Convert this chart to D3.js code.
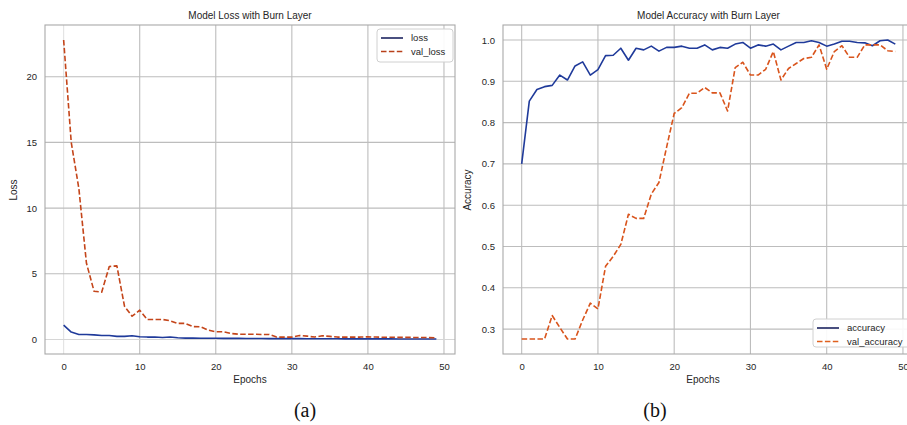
<!DOCTYPE html>
<html>
<head>
<meta charset="utf-8">
<script src="https://cdn.jsdelivr.net/npm/d3@7"></script>
<style>
  body { margin: 0; background: #fff; }
  svg { display: block; font-family: "Liberation Sans", Arial, sans-serif; }
</style>
</head>
<body>
<svg id="chart" width="907" height="425"></svg>
<script>
// ---- data ----
const epochs = d3.range(0, 50);
const loss = [1.09, 0.56, 0.38, 0.38, 0.35, 0.30, 0.30, 0.23, 0.23, 0.28,
              0.20, 0.18, 0.18, 0.15, 0.18, 0.13, 0.10, 0.10, 0.09, 0.09,
              0.09, 0.08, 0.08, 0.08, 0.07, 0.07, 0.07, 0.06, 0.06, 0.06,
              0.06, 0.06, 0.05, 0.05, 0.05, 0.05, 0.05, 0.04, 0.04, 0.04,
              0.05, 0.04, 0.04, 0.04, 0.03, 0.03, 0.03, 0.03, 0.03, 0.03];
const valLoss = [22.8, 15.0, 11.5, 5.8, 3.67, 3.6, 5.55, 5.6, 2.53, 1.77,
                 2.23, 1.52, 1.52, 1.52, 1.42, 1.22, 1.22, 0.98, 0.96, 0.71,
                 0.58, 0.58, 0.45, 0.40, 0.40, 0.40, 0.38, 0.38, 0.18, 0.18,
                 0.18, 0.30, 0.25, 0.18, 0.28, 0.23, 0.18, 0.18, 0.18, 0.18,
                 0.20, 0.18, 0.17, 0.17, 0.16, 0.16, 0.15, 0.15, 0.14, 0.13];
const accuracy = [0.700, 0.852, 0.880, 0.887, 0.890, 0.915, 0.903, 0.937, 0.947, 0.915,
                  0.928, 0.962, 0.963, 0.980, 0.951, 0.980, 0.976, 0.985, 0.973, 0.982,
                  0.982, 0.985, 0.980, 0.980, 0.988, 0.976, 0.982, 0.980, 0.990, 0.994,
                  0.980, 0.988, 0.985, 0.990, 0.976, 0.985, 0.994, 0.994, 0.998, 0.994,
                  0.985, 0.990, 0.997, 0.997, 0.994, 0.993, 0.986, 0.998, 1.000, 0.990];
const valAccuracy = [0.276, 0.276, 0.276, 0.276, 0.333, 0.304, 0.276, 0.276, 0.322, 0.363,
                     0.349, 0.452, 0.476, 0.505, 0.578, 0.568, 0.568, 0.627, 0.655, 0.740,
                     0.822, 0.836, 0.871, 0.871, 0.885, 0.872, 0.872, 0.828, 0.933, 0.946,
                     0.915, 0.915, 0.929, 0.972, 0.903, 0.931, 0.943, 0.955, 0.958, 0.988,
                     0.929, 0.972, 0.986, 0.958, 0.958, 0.988, 0.988, 0.988, 0.974, 0.972];
const xTicks = [0, 10, 20, 30, 40, 50];
const lossTicks = [0, 5, 10, 15, 20];
const accTicks = [0.3, 0.4, 0.5, 0.6, 0.7, 0.8, 0.9, 1.0];

const svg = d3.select("#chart");
const GRID = "#bdbdbd", SPINE = "#a9a9a9", TXT = "#262626";

function padded(vals) {
  const [lo, hi] = d3.extent(vals);
  const m = (hi - lo) * 0.05;
  return [lo - m, hi + m];
}

function panel(opts) {
  const { left, right, top, bottom, title, ylabel, series, yTicks, yFmt,
          legendPos, caption, captionX, lightZero } = opts;
  const g = svg.append("g");
  const x = d3.scaleLinear().domain(padded(epochs)).range([left, right]);
  const allY = [].concat(...series.map(s => s.values));
  const y = d3.scaleLinear().domain(padded(allY)).range([bottom, top]);

  // grid
  g.append("g").selectAll("line").data(xTicks).join("line")
    .attr("x1", d => x(d)).attr("x2", d => x(d))
    .attr("y1", top).attr("y2", bottom)
    .attr("stroke", d => (lightZero && d === 0) ? "#e2e2e2" : GRID)
    .attr("stroke-width", 1.1);
  g.append("g").selectAll("line").data(yTicks).join("line")
    .attr("x1", left).attr("x2", right)
    .attr("y1", d => y(d)).attr("y2", d => y(d))
    .attr("stroke", d => (lightZero && d === 0) ? "#d6d6d6" : GRID)
    .attr("stroke-width", 1.1);

  // axes via d3 (no tick marks, like seaborn whitegrid)
  const xAxis = g.append("g").attr("transform", `translate(0,${bottom})`)
    .call(d3.axisBottom(x).tickValues(xTicks).tickSize(0).tickPadding(9).tickFormat(d3.format("d")));
  const yAxis = g.append("g").attr("transform", `translate(${left},0)`)
    .call(d3.axisLeft(y).tickValues(yTicks).tickSize(0).tickPadding(8).tickFormat(yFmt));
  [xAxis, yAxis].forEach(a => {
    a.select(".domain").remove();
    a.selectAll("text").attr("fill", TXT).attr("font-size", 9.5)
      .attr("font-family", "'Liberation Sans', Arial, sans-serif");
  });

  // lines
  series.forEach(s => {
    const line = d3.line().x((d, i) => x(epochs[i])).y(d => y(d));
    g.append("path").datum(s.values)
      .attr("d", line).attr("fill", "none")
      .attr("stroke", s.color).attr("stroke-width", 1.6)
      .attr("stroke-linejoin", "round")
      .attr("stroke-dasharray", s.dash || null);
  });

  // spines
  g.append("rect").attr("x", left).attr("y", top)
    .attr("width", right - left).attr("height", bottom - top)
    .attr("fill", "none").attr("stroke", SPINE).attr("stroke-width", 1.1);

  // title and labels
  g.append("text").attr("x", (left + right) / 2 - (opts.titleShift || 0)).attr("y", 19)
    .attr("text-anchor", "middle").attr("font-size", 10).attr("fill", TXT).text(title);
  g.append("text").attr("x", opts.xlabelX).attr("y", 383)
    .attr("text-anchor", "middle").attr("font-size", 10).attr("fill", TXT).text("Epochs");
  g.append("text")
    .attr("transform", `translate(${opts.ylabelX},190) rotate(-90)`)
    .attr("text-anchor", "middle").attr("font-size", 10).attr("fill", TXT).text(ylabel);

  // legend
  const lg = g.append("g").attr("transform", `translate(${legendPos[0]},${legendPos[1]})`);
  lg.append("rect").attr("x", 0).attr("y", 0).attr("width", legendPos[2]).attr("height", legendPos[3])
    .attr("rx", 3).attr("fill", "#fff").attr("fill-opacity", 0.9)
    .attr("stroke", "#d0d0d0").attr("stroke-width", 1);
  series.forEach((s, i) => {
    const yy = 9 + i * 13.5;
    lg.append("line").attr("x1", 4).attr("x2", 26).attr("y1", yy).attr("y2", yy)
      .attr("stroke", s.legendColor || s.color).attr("stroke-width", 1.6)
      .attr("stroke-dasharray", s.dash || null);
    lg.append("text").attr("x", 34).attr("y", yy + 3.3).attr("font-size", 9.5)
      .attr("fill", TXT).text(s.name);
  });

  // caption
  svg.append("text").attr("x", captionX).attr("y", 417).attr("text-anchor", "middle")
    .attr("font-family", "'Liberation Serif', 'Times New Roman', serif")
    .attr("font-size", 20).attr("fill", "#111").text(caption);
}

panel({
  left: 45, right: 455, top: 25, bottom: 354,
  title: "Model Loss with Burn Layer", ylabel: "Loss",
  series: [
    { name: "loss", values: loss, color: "#1f3a9a", legendColor: "#1c2460" },
    { name: "val_loss", values: valLoss, color: "#c4451a", legendColor: "#b8401a", dash: "5.5,2.4" }
  ],
  yTicks: lossTicks, yFmt: d3.format("d"),
  legendPos: [377, 29, 76, 33],
  caption: "(a)", captionX: 305, xlabelX: 250, ylabelX: 17, lightZero: true
});

panel({
  left: 503, right: 914, top: 25, bottom: 354,
  title: "Model Accuracy with Burn Layer", ylabel: "Accuracy",
  titleShift: 0,
  series: [
    { name: "accuracy", values: accuracy, color: "#1f3a9a", legendColor: "#1c2460" },
    { name: "val_accuracy", values: valAccuracy, color: "#d9541c", legendColor: "#e0601e", dash: "5.5,2.4" }
  ],
  yTicks: accTicks, yFmt: d3.format(".1f"),
  legendPos: [813, 319, 100, 28],
  caption: "(b)", captionX: 655, xlabelX: 703, ylabelX: 471, lightZero: false
});
</script>
</body>
</html>
